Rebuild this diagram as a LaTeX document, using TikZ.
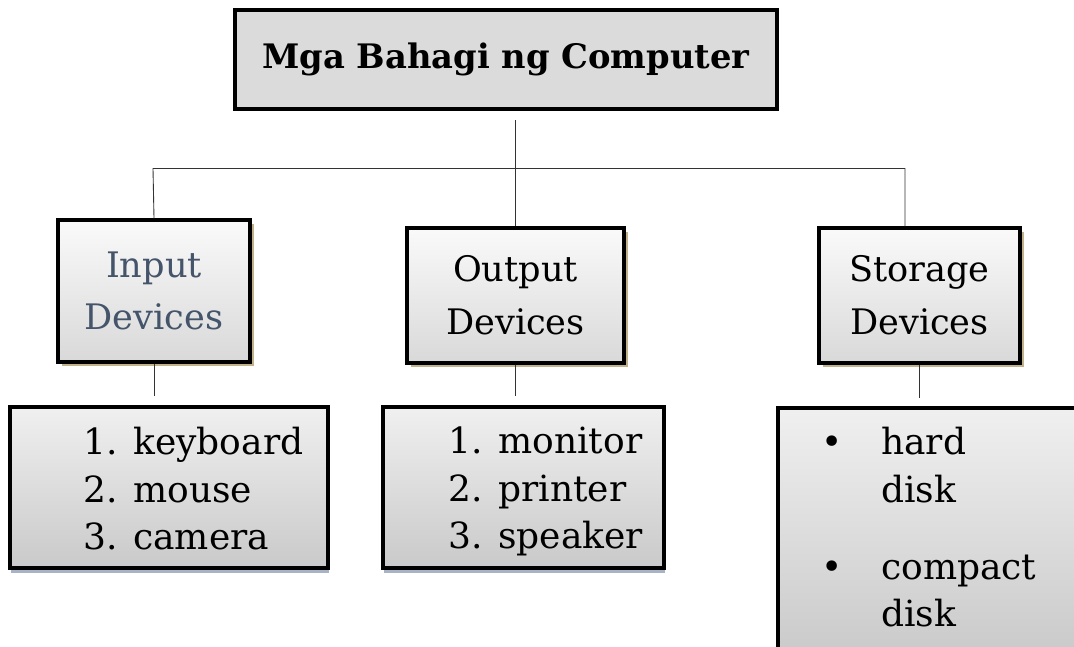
\documentclass[tikz,border=0pt]{standalone}
\usepackage{fontspec}
\setmainfont{DejaVu Serif}
\usetikzlibrary{shadows}
\definecolor{inputblue}{HTML}{44546A}
\definecolor{tanshadow}{HTML}{C2B28A}
\definecolor{blueshadow}{HTML}{A8B3C6}
\tikzset{
  headbox/.style={draw,line width=2pt,fill=gray!28,minimum width=10.84cm,minimum height=1.98cm,font=\fontsize{19.2}{24}\selectfont\bfseries},
  partbox/.style={draw,line width=1.9pt,top color=gray!4,bottom color=gray!30,minimum height=2.7cm,align=center,
    font=\fontsize{20}{30}\selectfont,drop shadow={shadow xshift=0.07cm,shadow yshift=-0.08cm,fill=tanshadow,opacity=1}},
  listbox/.style={draw,line width=1.9pt,top color=gray!12,bottom color=gray!42,
    font=\fontsize{20}{30}\selectfont,drop shadow={shadow xshift=0.02cm,shadow yshift=-0.1cm,fill=blueshadow,opacity=1}},
  itemtext/.style={anchor=north west,align=left,font=\fontsize{20.5}{27}\selectfont},
  link/.style={draw=black!80,line width=0.5pt}
}
\begin{document}
\begin{tikzpicture}
\useasboundingbox(0,0)rectangle(21.48,-12.92);
\node[headbox](title)at(10.12,-1.19){Mga Bahagi ng Computer};
\node[partbox,minimum width=3.84cm,minimum height=2.84cm,text=inputblue](input)at(3.08,-5.82){Input\\Devices};
\node[partbox,minimum width=4.34cm](output)at(10.31,-5.91){Output\\Devices};
\node[partbox,minimum width=4.02cm](storage)at(18.39,-5.91){Storage\\Devices};
% lists
\node[listbox,minimum width=6.36cm,minimum height=3.22cm](inlist)at(3.38,-9.75){};
\node[listbox,minimum width=5.62cm,minimum height=3.22cm](outlist)at(10.47,-9.75){};
\node[listbox,minimum width=6.4cm,minimum height=5cm](storelist)at(18.76,-10.66){};
\node[itemtext]at(1.55,-8.42){1. keyboard\\2. mouse\\3. camera};
\node[itemtext]at(8.85,-8.42){1. monitor\\2. printer\\3. speaker};
\node[itemtext]at(16.3,-8.42){%
  \makebox[1.2cm][l]{\textbullet}hard\\\hspace*{1.2cm}disk\\[0.6cm]\makebox[1.2cm][l]{\textbullet}compact\\\hspace*{1.2cm}disk};
% connectors
\coordinate(busL)at(3.06,-3.37);
\coordinate(busR)at(18.1,-3.37);
\draw[link,shorten >=0.18cm](output.north)--(output.north|-title.south);
\draw[link](input.north)--(busL)--(busR)--(storage.north-|busR);
\draw[link,shorten >=0.18cm](input.south)--(input.south|-inlist.north);
\draw[link,shorten >=0.18cm](output.south)--(output.south|-outlist.north);
\draw[link,shorten >=0.16cm](storage.south)--(storage.south|-storelist.north);
\end{tikzpicture}
\end{document}
